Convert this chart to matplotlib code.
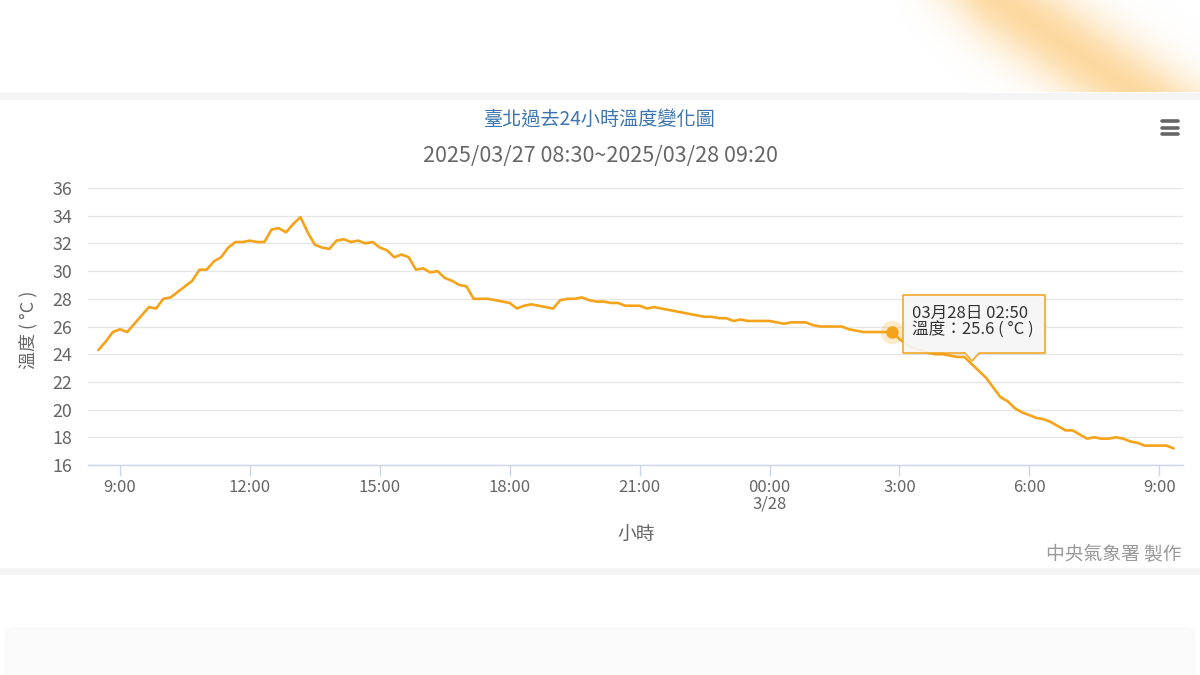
import numpy as np
import matplotlib
matplotlib.use("Agg")
import matplotlib.pyplot as plt
from matplotlib.patches import Rectangle, FancyBboxPatch, Polygon
from matplotlib.lines import Line2D

plt.rcParams['font.family'] = ['Noto Sans CJK TC', 'DejaVu Sans']

# ---------------- data ----------------
title = "臺北過去24小時溫度變化圖"
subtitle = "2025/03/27 08:30~2025/03/28 09:20"
start_label = "08:30"
step_minutes = 10
temps = [
    24.3, 24.9, 25.6, 25.8, 25.6, 26.2, 26.8, 27.4, 27.3, 28.0,
    28.1, 28.5, 28.9, 29.3, 30.1, 30.1, 30.7, 31.0, 31.7, 32.1,
    32.1, 32.2, 32.1, 32.1, 33.0, 33.1, 32.8, 33.4, 33.9, 32.8,
    31.9, 31.7, 31.6, 32.2, 32.3, 32.1, 32.2, 32.0, 32.1, 31.7,
    31.5, 31.0, 31.2, 31.0, 30.1, 30.2, 29.9, 30.0, 29.5, 29.3,
    29.0, 28.9, 28.0, 28.0, 28.0, 27.9, 27.8, 27.7, 27.3, 27.5,
    27.6, 27.5, 27.4, 27.3, 27.9, 28.0, 28.0, 28.1, 27.9, 27.8,
    27.8, 27.7, 27.7, 27.5, 27.5, 27.5, 27.3, 27.4, 27.3, 27.2,
    27.1, 27.0, 26.9, 26.8, 26.7, 26.7, 26.6, 26.6, 26.4, 26.5,
    26.4, 26.4, 26.4, 26.4, 26.3, 26.2, 26.3, 26.3, 26.3, 26.1,
    26.0, 26.0, 26.0, 26.0, 25.8, 25.7, 25.6, 25.6, 25.6, 25.6,
    25.6, 25.1, 24.7, 24.4, 24.3, 24.1, 24.0, 24.0, 23.9, 23.8,
    23.8, 23.3, 22.8, 22.3, 21.6, 20.9, 20.6, 20.1, 19.8, 19.6,
    19.4, 19.3, 19.1, 18.8, 18.5, 18.5, 18.2, 17.9, 18.0, 17.9,
    17.9, 18.0, 17.9, 17.7, 17.6, 17.4, 17.4, 17.4, 17.4, 17.2,
]
tick_minutes = [30, 210, 390, 570, 750, 930, 1110, 1290, 1470]
tick_labels = ["9:00", "12:00", "15:00", "18:00", "21:00", "00:00\n3/28",
               "3:00", "6:00", "9:00"]
y_ticks = [16, 18, 20, 22, 24, 26, 28, 30, 32, 34, 36]
tooltip_index = 110
tooltip_time = "03月28日 02:50"
y_label = "溫度 ( °C )"
x_label = "小時"
credit = "中央氣象署 製作"

# ---------------- figure ----------------
W, H = 1200, 675
fig = plt.figure(figsize=(12, 6.75), dpi=100)
fig.patch.set_facecolor('white')


def fx(x):
    return x / W


def fy(y):
    return 1 - y / H


# orange blurred blob at top right (decoration)
bg = fig.add_axes([fx(860), fy(92), fx(340), 92 / H])
bg.set_axis_off()
gx, gy = np.meshgrid(np.arange(860, 1200), np.arange(0, 92))
p0 = np.array([1000.0, 0.0])
d = np.array([135.0, 92.0]); d /= np.linalg.norm(d)
nrm = np.array([-d[1], d[0]])
dist = (gx - p0[0]) * nrm[0] + (gy - p0[1]) * nrm[1]
alpha = np.exp(-(dist / 40.0) ** 2) * 0.8
alpha *= np.clip((gx - 890) / 90.0, 0, 1)
img = np.zeros(gx.shape + (4,))
img[..., 0] = 253 / 255
img[..., 1] = 208 / 255
img[..., 2] = 138 / 255
img[..., 3] = alpha
bg.imshow(img, extent=[0, 1, 0, 1], aspect='auto', origin='upper')
bg.set_xlim(0, 1); bg.set_ylim(0, 1)

# card borders
fig.patches.append(Rectangle((0, fy(100)), 1, 7 / H, transform=fig.transFigure,
                             facecolor='#f4f4f4', edgecolor='none', zorder=0.5))
fig.patches.append(Rectangle((0, fy(575)), 1, 7 / H, transform=fig.transFigure,
                             facecolor='#f4f4f4', edgecolor='none', zorder=0.5))
fig.patches.append(FancyBboxPatch((fx(6), fy(690)), fx(1188), 62 / H,
                                  boxstyle="round,pad=0,rounding_size=0.01",
                                  transform=fig.transFigure, facecolor='#fbfbfb',
                                  edgecolor='#f7f7f7', lw=1, zorder=0.5))

# main axes
left, right, top, bottom = 88, 1183, 188, 465
ax = fig.add_axes([fx(left), fy(bottom), fx(right - left), (bottom - top) / H])
ax.set_facecolor('none')

xs = np.arange(len(temps)) * step_minutes
line_color = '#F5A31A'
ax.plot(xs, temps, color=line_color, lw=1.9, solid_joinstyle='round',
        solid_capstyle='round', zorder=3)

ax.set_xlim(-14.4, 1503)
ax.set_ylim(16, 36)
ax.set_yticks(y_ticks)
ax.set_yticklabels([str(v) for v in y_ticks])
ax.set_xticks(tick_minutes)
ax.set_xticklabels(tick_labels, linespacing=1.0)
ax.grid(axis='y', color='#e6e6e6', lw=1)
ax.set_axisbelow(True)
for s in ['top', 'right', 'left']:
    ax.spines[s].set_visible(False)
ax.spines['bottom'].set_color('#ccd6eb')
ax.spines['bottom'].set_linewidth(1)
ax.tick_params(axis='y', length=0, pad=11.5, labelsize=12.8, labelcolor='#666666')
ax.tick_params(axis='x', length=8, width=1, color='#ccd6eb', pad=2,
               labelsize=12, labelcolor='#666666')

# highlighted point
tx, tyv = xs[tooltip_index], temps[tooltip_index]
ax.plot([tx], [tyv], 'o', ms=17, color=line_color, alpha=0.22, mec='none', zorder=4)
ax.plot([tx], [tyv], 'o', ms=9, color=line_color, mec='none', zorder=5)

# titles and labels
fig.text(0.5, fy(120), title, ha='center', va='center', fontsize=13.8,
         color='#3b74b0')
fig.text(0.5, fy(156), subtitle, ha='center', va='center', fontsize=15.5,
         color='#666666')
fig.text(fx(28), fy(330), y_label, ha='center', va='center', rotation=90,
         fontsize=13, color='#666666')
fig.text(fx(636), fy(535), x_label, ha='center', va='center', fontsize=13.5,
         color='#666666')
fig.text(fx(1182), fy(555), credit, ha='right', va='center', fontsize=13.5,
         color='#999999')

# hamburger menu icon
for yy in (121, 127.5, 134):
    fig.lines.append(Line2D([fx(1162), fx(1178)], [fy(yy), fy(yy)],
                            transform=fig.transFigure, color='#666666', lw=2.6,
                            solid_capstyle='round'))

# tooltip
bx0, bx1, by0, by1 = 903, 1045, 295, 353
tipx, tipy = 972, 361
pts = [(bx0, by0), (bx1, by0), (bx1, by1), (tipx + 7, by1), (tipx, tipy),
       (tipx - 7, by1), (bx0, by1)]
shadow = Polygon([(fx(x + 1.5), fy(y + 1.5)) for x, y in pts], closed=True,
                 transform=fig.transFigure, facecolor='#000000', alpha=0.06,
                 edgecolor='none', zorder=9)
tip = Polygon([(fx(x), fy(y)) for x, y in pts], closed=True,
              transform=fig.transFigure, facecolor='#f7f7f7', alpha=0.93,
              edgecolor=line_color, lw=1.2, joinstyle='round', zorder=10)
fig.patches.append(shadow)
fig.patches.append(tip)
fig.text(fx(912), fy(313), tooltip_time, ha='left', va='center', fontsize=12,
         color='#333333', zorder=11)
fig.text(fx(912), fy(330), f"溫度：{tyv:.1f} ( °C )", ha='left', va='center',
         fontsize=12, color='#333333', zorder=11)

fig.savefig('out.png', dpi=100, facecolor='white')
